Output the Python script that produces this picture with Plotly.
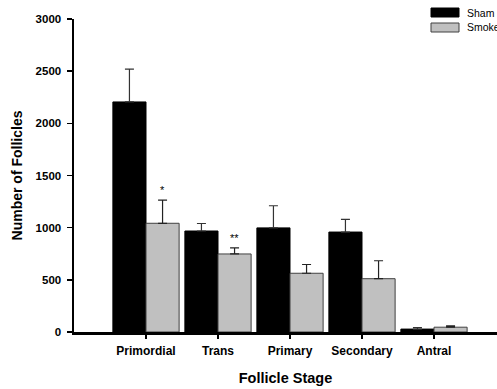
import plotly.graph_objects as go

# ---- data ----
stages = ["Primordial", "Trans", "Primary", "Secondary", "Antral"]
sham = [2205, 968, 998, 958, 28]
sham_err = [315, 72, 212, 122, 15]
smoke = [1042, 748, 563, 511, 46]
smoke_err = [222, 58, 84, 172, 12]
signif = ["*", "**", "", "", ""]
y_ticks = [0, 500, 1000, 1500, 2000, 2500, 3000]

FONT = "Liberation Sans, Arial, sans-serif"
W, H = 497, 389
L, R, T, B = 74, 0, 19, 57
plot_w = W - L - R
plot_h = H - T - B
x_range = [-1, -1 + plot_w / 72.0]
bargap = 0.08
px_per_cat = plot_w / (x_range[1] - x_range[0])
bar_px = px_per_cat * (1 - bargap) / 2

fig = go.Figure()
fig.add_trace(go.Bar(
    x=stages, y=sham, name="Sham",
    marker=dict(color="black", line=dict(color="black", width=1)),
    error_y=dict(type="data", array=sham_err, arrayminus=[0] * len(sham_err),
                 symmetric=False, color="#333333", thickness=1.2, width=4.5),
))
fig.add_trace(go.Bar(
    x=stages, y=smoke, name="Smoke",
    marker=dict(color="#c0c0c0", line=dict(color="#404040", width=1)),
    error_y=dict(type="data", array=smoke_err, arrayminus=[0] * len(smoke_err),
                 symmetric=False, color="#222222", thickness=1.2, width=4.5),
))

annotations = []
for st, v, e, s in zip(stages, smoke, smoke_err, signif):
    if s:
        annotations.append(dict(
            x=st, y=v + e, xref="x", yref="y", text=s, showarrow=False,
            xshift=bar_px / 2, yanchor="bottom", yshift=2,
            font=dict(family=FONT, size=11, color="black"),
        ))


def px_x(p):  # page pixel -> paper fraction
    return (p - L) / plot_w


def px_y(p):
    return 1 - (p - T) / plot_h


shapes = []
legend_items = [("Sham", "black", "black", 8, 17), ("Smoke", "#c0c0c0", "#404040", 23, 32)]
for name, fill, edge, y0, y1 in legend_items:
    shapes.append(dict(type="rect", xref="paper", yref="paper",
                       x0=px_x(431), x1=px_x(459), y0=px_y(y1), y1=px_y(y0),
                       fillcolor=fill, line=dict(color=edge, width=1), layer="above"))
    annotations.append(dict(x=px_x(465), y=px_y((y0 + y1) / 2), xref="paper", yref="paper",
                            text=name, showarrow=False, xanchor="left", yanchor="middle",
                            font=dict(family=FONT, size=10.5, color="black")))

fig.update_layout(
    width=W, height=H,
    margin=dict(l=L, r=R, t=T, b=B, pad=0),
    paper_bgcolor="white", plot_bgcolor="white",
    barmode="group", bargap=bargap, bargroupgap=0,
    showlegend=False, hovermode=False,
    annotations=annotations, shapes=shapes,
    font=dict(family=FONT, color="black"),
)
fig.update_xaxes(
    type="category", range=x_range, showgrid=False, zeroline=False,
    showline=True, linecolor="black", linewidth=2.5,
    ticks="outside", ticklen=4, tickwidth=2, tickcolor="black",
    tickfont=dict(family=FONT, size=12, color="black", weight="bold"),
    ticklabelstandoff=2,
    title=dict(text="<b>Follicle Stage</b>", font=dict(family=FONT, size=14.5, color="black"),
               standoff=16),
    automargin=False,
)
fig.update_yaxes(
    range=[0, 3000], tickvals=y_ticks, showgrid=False, zeroline=False,
    showline=True, linecolor="black", linewidth=2.5,
    ticks="outside", ticklen=5, tickwidth=1.5, tickcolor="black",
    tickfont=dict(family=FONT, size=11.5, color="black", weight="bold"),
    ticklabelstandoff=3,
    title=dict(text="<b>Number of Follicles</b>", font=dict(family=FONT, size=14, color="black"),
               standoff=10),
    automargin=False,
)

fig.write_html(
    "out.html",
    config={"displayModeBar": False, "staticPlot": True},
    post_script="document.body.style.margin='0';document.body.style.overflow='hidden';",
)
